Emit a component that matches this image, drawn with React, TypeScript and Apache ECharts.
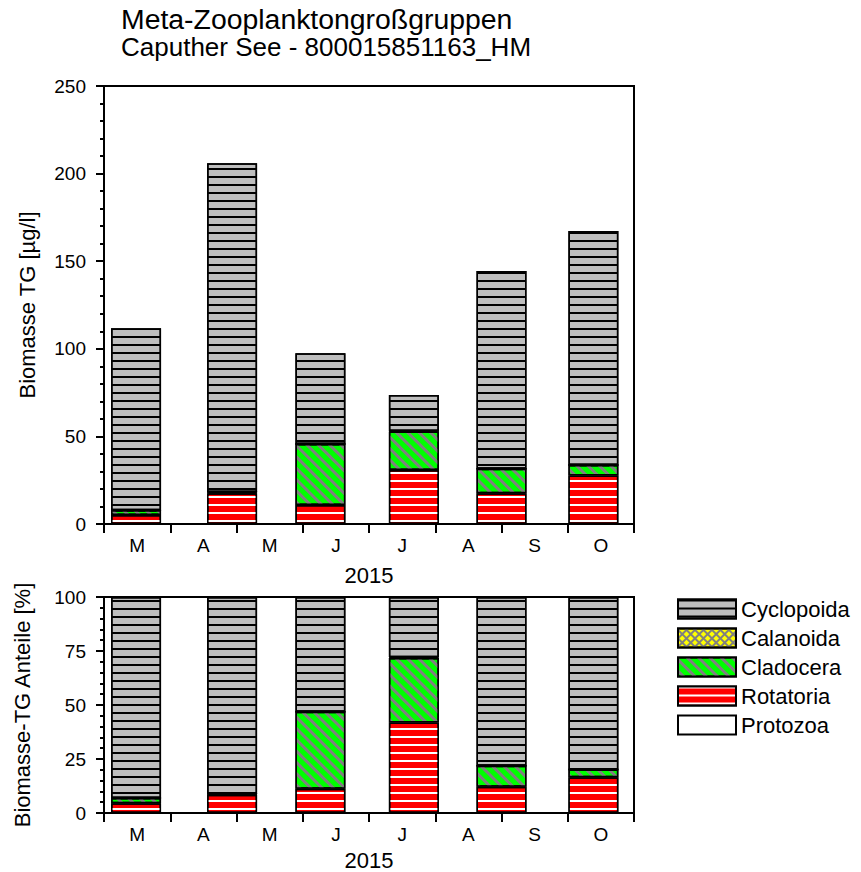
import React, { useEffect, useRef } from 'react';
import * as echarts from 'echarts';

// ---------- data ----------
const monthLabels = ['M', 'A', 'M', 'J', 'J', 'A', 'S', 'O'];
const yearLabel = '2015';
const sampleDates = ['2015-03-16', '2015-04-29', '2015-06-09', '2015-07-22', '2015-09-01', '2015-10-13'];
const protozoa = [0, 0, 0, 0, 0, 0];
const rotatoria = [5.1, 17.5, 10.9, 30.8, 17.6, 27.7];
const cladocera = [2.7, 0.8, 34.8, 22.0, 14.0, 6.0];
const calanoida = [0, 0, 0, 0.3, 0, 0];
const cyclopoida = [103.9, 187.6, 51.7, 20.5, 112.8, 133.5];
const seriesNames = ['Protozoa', 'Rotatoria', 'Cladocera', 'Calanoida', 'Cyclopoida'];
const legendOrder = ['Cyclopoida', 'Calanoida', 'Cladocera', 'Rotatoria', 'Protozoa'];
const absMax = 250;
const absInterval = 50;
const pctMax = 100;
const pctInterval = 25;

const FONT = '"Liberation Sans", Arial, Helvetica, sans-serif';

// position on an axis where each month (starting with March) is one unit
function monthPos(d: string): number {
  const [y, m, day] = d.split('-').map(Number);
  const dim = new Date(y, m, 0).getDate();
  return (m - 3) + (day - 1) / dim;
}

const styles: Record<string, any> = {
  Protozoa: { color: '#FFFFFF' },
  Rotatoria: {
    color: '#FF0000',
    decal: { symbol: 'rect', symbolSize: 1, dashArrayX: [1, 0], dashArrayY: [1.4, 5.8], color: '#FFFFFF' },
  },
  Cladocera: {
    color: '#00FF00',
    decal: { symbol: 'rect', symbolSize: 1, dashArrayX: [1, 0], dashArrayY: [2.6, 4.4], rotation: Math.PI / 4, color: '#808080' },
  },
  Calanoida: {
    color: '#FFFF00',
    decal: { symbol: 'rect', symbolSize: 1, dashArrayX: [[1, 0], [1.2, 3.8]], dashArrayY: [1.2, 0, 3.8, 0], rotation: Math.PI / 4, color: '#808080' },
  },
  Cyclopoida: {
    color: '#BEBEBE',
    decal: { symbol: 'rect', symbolSize: 1, dashArrayX: [1, 0], dashArrayY: [1.4, 5.8], color: '#000000' },
  },
};

const values: Record<string, number[]> = {
  Protozoa: protozoa,
  Rotatoria: rotatoria,
  Cladocera: cladocera,
  Calanoida: calanoida,
  Cyclopoida: cyclopoida,
};

export default function App() {
  const ref = useRef<HTMLDivElement>(null);
  useEffect(() => {
    if (!ref.current) return;
    const chart = echarts.init(ref.current, undefined, { renderer: 'svg' });
    const xs = sampleDates.map(monthPos);
    const totals = sampleDates.map((_, i) => seriesNames.reduce((s, n) => s + values[n][i], 0));

    const catAxis = (gridIndex: number, nameGap: number) => ({
      gridIndex,
      type: 'category',
      data: monthLabels,
      boundaryGap: true,
      axisLine: { show: true, lineStyle: { color: '#000', width: 2 } },
      axisTick: { show: true, length: 9, lineStyle: { color: '#000', width: 2 } },
      axisLabel: { fontSize: 19, color: '#000', margin: 12, fontFamily: FONT },
      name: yearLabel,
      nameLocation: 'middle',
      nameGap,
      nameTextStyle: { fontSize: 22, color: '#000', fontFamily: FONT },
    });
    const posAxis = (gridIndex: number) => ({
      gridIndex,
      type: 'value',
      min: 0,
      max: monthLabels.length,
      show: false,
    });
    const valAxis = (gridIndex: number, max: number, interval: number, name: string, nameGap: number) => ({
      gridIndex,
      type: 'value',
      min: 0,
      max,
      interval,
      axisLine: { show: true, lineStyle: { color: '#000', width: 2 } },
      axisTick: { show: true, length: 8, lineStyle: { color: '#000', width: 2 } },
      minorTick: { show: true, splitNumber: 5, length: 4, lineStyle: { color: '#000', width: 2 } },
      splitLine: { show: false },
      axisLabel: { fontSize: 19, color: '#000', margin: 18, fontFamily: FONT },
      name,
      nameLocation: 'middle',
      nameGap,
      nameTextStyle: { fontSize: 22, color: '#000', fontFamily: FONT },
    });

    const series: any[] = [];
    seriesNames.forEach((n) => {
      const st = styles[n];
      const itemStyle: any = { color: st.color, borderColor: '#000', borderWidth: 1.5 };
      if (st.decal) itemStyle.decal = st.decal;
      // value first so that the stacked dimension is the value (y) one
      series.push({
        name: n,
        type: 'bar',
        stack: 'abs',
        xAxisIndex: 1,
        yAxisIndex: 0,
        barWidth: 50,
        itemStyle,
        encode: { x: 1, y: 0 },
        data: xs.map((x, i) => [values[n][i], x]),
      });
      series.push({
        name: n,
        type: 'bar',
        stack: 'pct',
        xAxisIndex: 3,
        yAxisIndex: 1,
        barWidth: 50,
        itemStyle,
        encode: { x: 1, y: 0 },
        data: xs.map((x, i) => [(values[n][i] / totals[i]) * 100, x]),
      });
    });

    chart.setOption({
      animation: false,
      textStyle: { fontFamily: FONT },
      title: [
        { text: 'Meta-Zooplanktongroßgruppen', left: 121, top: 5, padding: 0, textStyle: { fontSize: 28.4, fontWeight: 'normal', color: '#000', fontFamily: FONT } },
        { text: 'Caputher See - 800015851163_HM', left: 121, top: 34, padding: 0, textStyle: { fontSize: 26, fontWeight: 'normal', color: '#000', fontFamily: FONT } },
      ],
      legend: {
        data: legendOrder,
        orient: 'vertical',
        left: 677,
        top: 598,
        icon: 'rect',
        itemWidth: 58,
        itemHeight: 19,
        itemGap: 7,
        padding: 0,
        selectedMode: false,
        textStyle: { fontSize: 22, color: '#000', fontFamily: FONT, lineHeight: 22 },
      },
      grid: [
        { left: 104, top: 86, width: 530, height: 438, show: true, borderColor: '#000', borderWidth: 2, backgroundColor: 'transparent' },
        { left: 104, top: 597, width: 530, height: 220, show: true, borderColor: '#000', borderWidth: 2, backgroundColor: 'transparent' },
      ],
      xAxis: [catAxis(0, 40), posAxis(0), catAxis(1, 36), posAxis(1)],
      yAxis: [
        valAxis(0, absMax, absInterval, 'Biomasse TG [µg/l]', 66),
        valAxis(1, pctMax, pctInterval, 'Biomasse-TG Anteile [%]', 71),
      ],
      series,
    });
    return () => chart.dispose();
  }, []);
  return <div ref={ref} style={{ position: 'absolute', left: 0, top: 0, width: 861, height: 872, background: '#fff' }} />;
}
